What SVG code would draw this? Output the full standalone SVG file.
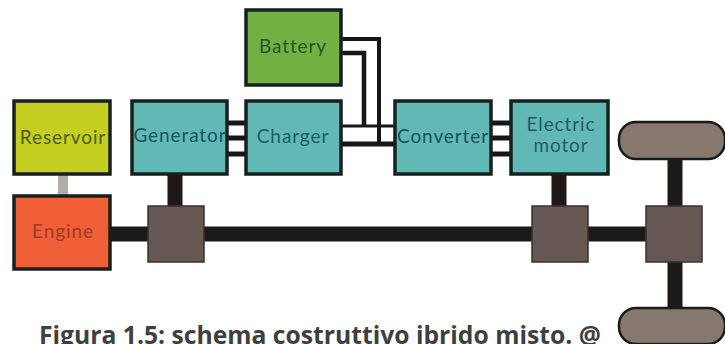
<svg xmlns="http://www.w3.org/2000/svg" width="725" height="344" viewBox="0 0 725 344">
<style>
.box{stroke:#16201f;stroke-width:3.5}
.teal{fill:#62b8b5}
.gear{fill:#645754;stroke:#3a3230;stroke-width:1.5}
.wheel{fill:#86776f;stroke:#1c1a18;stroke-width:2.5}
.shaft{stroke:#1c1a18;stroke-width:15;fill:none}
.wire{stroke:#16161a;fill:none}
.lbl{font-family:"Lato","Noto Sans",sans-serif;font-size:19px;letter-spacing:.9px;text-anchor:middle}
.cap{font-family:"Open Sans","Noto Sans",sans-serif;font-size:24.7px;font-weight:700;fill:#3f3f3f}
</style>
<rect width="725" height="344" fill="#ffffff"/>
<g id="connectors">
<path class="wire" stroke-width="4" d="M342 39H379V144"/>
<path class="wire" stroke-width="4.5" d="M342 53H364V126"/>
<path class="wire" stroke-width="3" d="M342 126H394"/>
<path class="wire" stroke-width="5" d="M342 144H394"/>
<path class="wire" stroke-width="5" d="M228 123H245M228 138H245M228 154H245"/>
<path class="wire" stroke-width="5" d="M492 123H510M492 138H510M492 154H510"/>
<path d="M63 175V195" stroke="#b0aca6" stroke-width="10" fill="none"/>
<path class="shaft" d="M111 234H680"/>
<path class="shaft" d="M175 175V210M559 175V210"/>
<path class="shaft" d="M675 158V310"/>
</g>
<g id="battery"><rect class="box" x="246" y="10" width="95" height="75" fill="#72b043"/><text class="lbl" x="293" y="53" fill="#1e5a24">Battery</text></g>
<g id="charger"><rect class="box teal" x="246" y="101" width="95" height="73"/><text class="lbl" x="293" y="143" fill="#1d5f68">Charger</text></g>
<g id="converter"><rect class="box teal" x="395" y="101" width="96" height="73"/><text class="lbl" x="443" y="143" fill="#14565e">Converter</text></g>
<g id="generator"><rect class="box teal" x="132" y="101" width="95" height="73"/><text class="lbl" x="180" y="142" fill="#14565e">Generator</text></g>
<g id="reservoir"><rect class="box" x="14" y="101" width="96" height="73" fill="#c4cf21"/><text class="lbl" x="63" y="144" fill="#4c5c10">Reservoir</text></g>
<g id="engine"><rect class="box" x="14" y="196" width="96" height="73" fill="#f15f38"/><text class="lbl" x="63" y="238" fill="#a23a24">Engine</text></g>
<g id="electric-motor"><rect class="box teal" x="511" y="101" width="97" height="73"/><text class="lbl" fill="#1d5f68"><tspan x="561" y="131">Electric</tspan><tspan x="561" y="152">motor</tspan></text></g>
<g id="gear-1"><rect class="gear" x="148" y="206" width="56" height="56"/></g>
<g id="gear-2"><rect class="gear" x="532" y="206" width="56" height="56"/></g>
<g id="gear-3"><rect class="gear" x="646" y="206" width="56" height="56"/></g>
<g id="wheel-top"><rect class="wheel" x="619" y="122" width="106" height="37" rx="17"/></g>
<g id="wheel-bottom"><rect class="wheel" x="619" y="308" width="106" height="36" rx="17"/></g>
<text class="cap" x="39" y="344">Figura 1.5: schema costruttivo ibrido misto. @</text>
</svg>
